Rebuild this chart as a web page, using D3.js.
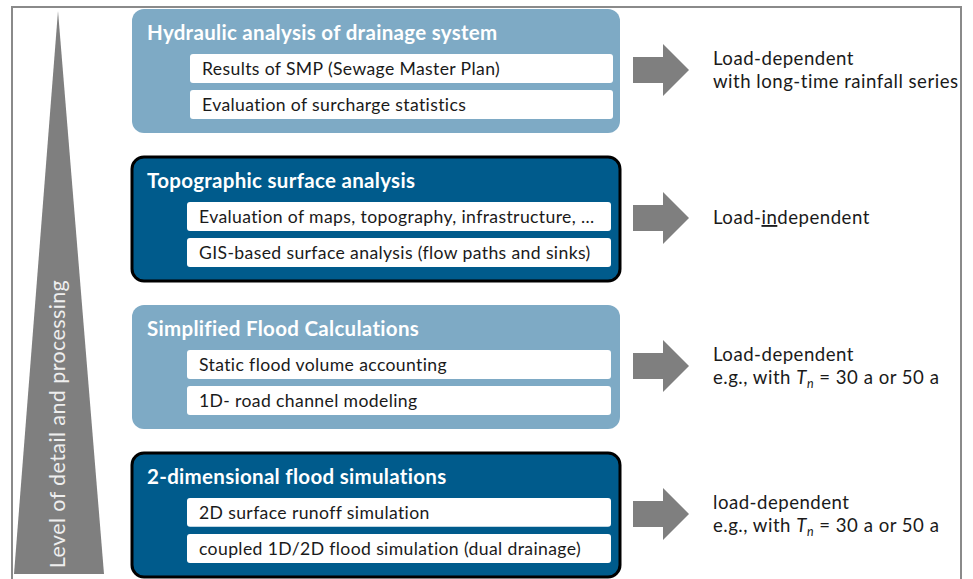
<!DOCTYPE html>
<html>
<head>
<meta charset="utf-8">
<script src="https://cdn.jsdelivr.net/npm/d3@7/dist/d3.min.js"></script>
<style>
  body { margin: 0; background: #fff; }
  svg { display: block; font-family: Lato, "Open Sans", sans-serif; }
</style>
</head>
<body>
<svg width="973" height="579"></svg>
<script>
// stages, top to bottom
var titles = [
  "Hydraulic analysis of drainage system",
  "Topographic surface analysis",
  "Simplified Flood Calculations",
  "2-dimensional flood simulations"
];
var items = [
  ["Results of SMP (Sewage Master Plan)", "Evaluation of surcharge statistics"],
  ["Evaluation of maps, topography, infrastructure, ...", "GIS-based surface analysis (flow paths and sinks)"],
  ["Static flood volume accounting", "1D- road channel modeling"],
  ["2D surface runoff simulation", "coupled 1D/2D flood simulation (dual drainage)"]
];
var kinds = ["light", "dark", "light", "dark"];
var loads = [
  ["Load-dependent", "with long-time rainfall series"],
  ["Load-independent"],
  ["Load-dependent", "e.g., with Tn = 30 a or 50 a"],
  ["load-dependent", "e.g., with Tn = 30 a or 50 a"]
];
var axisLabel = "Level of detail and processing";

var svg = d3.select("svg");
var fill = { light: "#7eaac5", dark: "#005b8c" };

var y = d3.scaleBand()
    .domain(d3.range(titles.length))
    .range([9, 577])
    .paddingInner(0.162);

var sub = d3.scaleBand()
    .domain([0, 1])
    .range([45, 110])
    .paddingInner(0.2);

// outer frame
svg.append("rect")
    .attr("x", 12).attr("y", 7)
    .attr("width", 949).attr("height", 600)
    .attr("fill", "none")
    .attr("stroke", "#8a8a8a")
    .attr("stroke-width", 2);

// wedge on the left
svg.append("path")
    .attr("d", "M58,11 L104,574 L14,574 Z")
    .attr("fill", "#7f7f7f");

svg.append("text")
    .attr("transform", "translate(65,424) rotate(-90)")
    .attr("text-anchor", "middle")
    .attr("fill", "#eeeeee")
    .attr("font-size", 21.5)
    .attr("letter-spacing", 0.4)
    .text(axisLabel);

var stage = svg.selectAll("g.stage")
  .data(titles)
  .enter().append("g")
    .attr("class", "stage")
    .attr("transform", function(d, i) { return "translate(0," + y(i) + ")"; });

stage.append("rect")
    .attr("x", 132)
    .attr("width", 488)
    .attr("height", y.bandwidth())
    .attr("rx", 12)
    .attr("fill", function(d, i) { return fill[kinds[i]]; })
    .attr("stroke", function(d, i) { return kinds[i] == "dark" ? "#000" : "none"; })
    .attr("stroke-width", 3);

stage.append("text")
    .attr("x", 147)
    .attr("y", 31)
    .attr("fill", "#fff")
    .attr("font-weight", "bold")
    .attr("font-size", 20.5)
    .attr("letter-spacing", 0.3)
    .text(function(d) { return d; });

stage.each(function(d, i) {
  var g = d3.select(this);
  var bx = i == 0 ? 190 : 187;
  var row = g.selectAll("g.item")
    .data(items[i])
    .enter().append("g")
      .attr("transform", function(t, j) { return "translate(" + bx + "," + sub(j) + ")"; });
  row.append("rect")
      .attr("width", 611 - bx + (i == 0 ? 2 : 0))
      .attr("height", sub.bandwidth())
      .attr("rx", 3)
      .attr("fill", "#fff");
  row.append("text")
      .attr("x", 12)
      .attr("y", 21)
      .attr("fill", "#1a1a1a")
      .attr("font-size", 17.6)
      .attr("letter-spacing", 0.37)
      .text(function(t) { return t; });

  // arrow
  var cy = 61;
  g.append("path")
      .attr("d", "M633," + (cy - 13) + " H663 V" + (cy - 26) + " L689," + cy +
                 " L663," + (cy + 26) + " V" + (cy + 13) + " H633 Z")
      .attr("fill", "#7f7f7f");

  var lines = loads[i];
  var txt = g.append("text")
      .attr("fill", "#1a1a1a")
      .attr("font-size", 18.6)
      .attr("letter-spacing", 0.5);
  lines.forEach(function(line, k) {
    var ly = lines.length == 1 ? cy + 6 : cy - 5 + k * 23;
    var t = txt.append("tspan").attr("x", 713).attr("y", ly);
    if (line.indexOf("Tn") >= 0) {
      var parts = line.split("Tn");
      t.text(parts[0]);
      txt.append("tspan").attr("font-style", "italic").text("T");
      txt.append("tspan").attr("font-style", "italic").attr("font-size", 12.5)
          .attr("dy", 4).text("n");
      txt.append("tspan").attr("dy", -4).text(parts[1]);
    } else if (line == "Load-independent") {
      t.text("Load-");
      txt.append("tspan").attr("text-decoration", "underline").text("in");
      txt.append("tspan").text("dependent");
    } else {
      t.text(line);
    }
  });
});
</script>
</body>
</html>
